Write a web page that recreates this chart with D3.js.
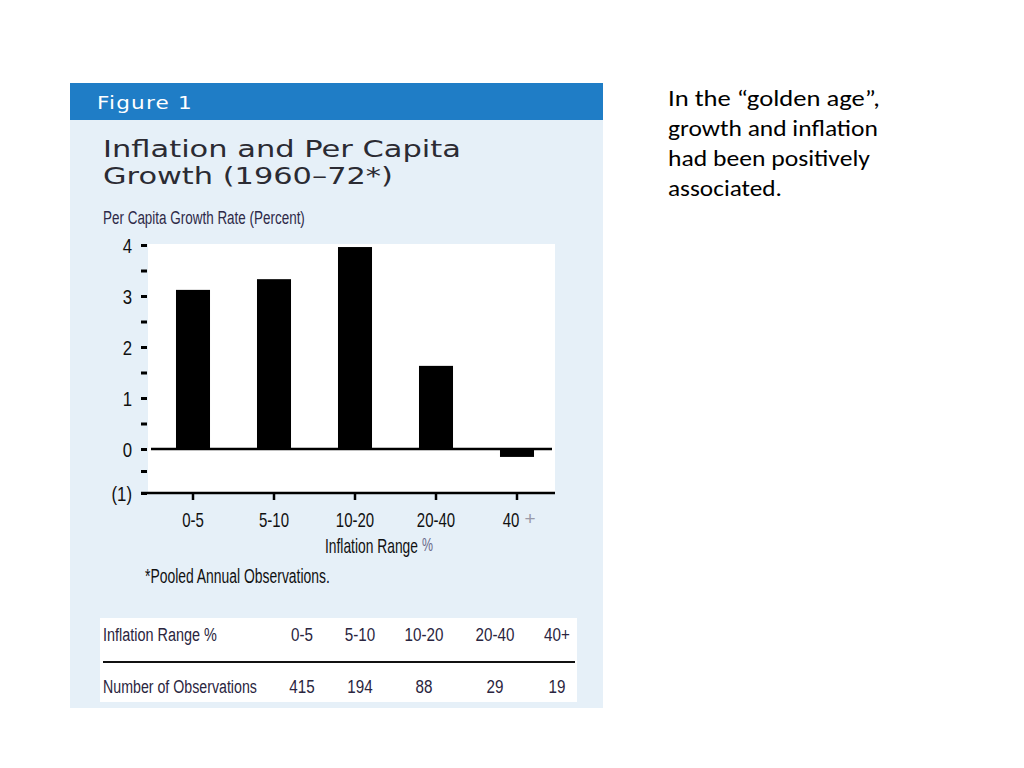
<!DOCTYPE html>
<html>
<head>
<meta charset="utf-8">
<script src="https://cdn.jsdelivr.net/npm/d3@7"></script>
<style>
  html, body { margin: 0; padding: 0; background: #ffffff; }
  svg { display: block; }
</style>
</head>
<body>
<svg id="chart" width="1024" height="768"></svg>
<script>
// ---- data ----
const categories = ["0-5", "5-10", "10-20", "20-40", "40+"];
const growth = [3.12, 3.33, 3.96, 1.63, -0.18];
const observations = [415, 194, 88, 29, 19];
const yTickValues = [-1, -0.5, 0, 0.5, 1, 1.5, 2, 2.5, 3, 3.5, 4];
const yTickLabels = { "-1": "(1)", "0": "0", "1": "1", "2": "2", "3": "3", "4": "4" };
const figureLabel = "Figure 1";
const titleLines = ["Inflation and Per Capita", "Growth (1960\u201372*)"];
const yAxisTitle = "Per Capita Growth Rate (Percent)";
const xAxisTitle = "Inflation Range";
const footnote = "*Pooled Annual Observations.";
const tableRowLabels = ["Inflation Range %", "Number of Observations"];
const sideText = ["In the \u201cgolden age\u201d,", "growth and inflation", "had been positively", "associated."];

const narrow = "'Liberation Sans', Arimo, sans-serif";
const svg = d3.select("#chart");

// squeeze text horizontally (about its anchor) to imitate a condensed face
function squeeze(sel, k) {
  sel.each(function () {
    const t = d3.select(this);
    const x0 = +t.attr("x") || 0, y0 = +t.attr("y") || 0;
    t.attr("x", 0).attr("y", 0).attr("transform", `translate(${x0},${y0}) scale(${k},1)`);
  });
  return sel;
}
// squeeze a text to a target width
function fitWidth(sel, w) {
  sel.each(function () {
    const k = w / this.getComputedTextLength();
    squeeze(d3.select(this), k);
  });
  return sel;
}

// panel
svg.append("rect").attr("x", 70).attr("y", 83).attr("width", 533).attr("height", 625).attr("fill", "#e6f0f8");
svg.append("rect").attr("x", 70).attr("y", 83).attr("width", 533).attr("height", 37).attr("fill", "#1f7dc6");
fitWidth(svg.append("text").attr("x", 97).attr("y", 109).text(figureLabel)
  .attr("font-family", "'DejaVu Sans', sans-serif").attr("font-size", 18).attr("fill", "#ffffff")
  .attr("letter-spacing", 1), 96);

// title lines
titleLines.forEach((t, i) => {
  fitWidth(svg.append("text").attr("x", 103).attr("y", 157 + i * 27).text(t)
    .attr("font-family", "'DejaVu Sans', sans-serif").attr("font-size", 23).attr("fill", "#2b2b33"),
    i === 0 ? 358 : 290);
});

fitWidth(svg.append("text").attr("x", 103).attr("y", 224).text(yAxisTitle)
  .attr("font-family", narrow).attr("font-size", 19).attr("fill", "#2e2a48"), 202);

// plot area
const plotL = 148, plotR = 555, plotT = 244, plotB = 493;
svg.append("rect").attr("x", plotL).attr("y", plotT).attr("width", plotR - plotL).attr("height", plotB - plotT).attr("fill", "#ffffff");

const x = d3.scaleBand().domain(categories).range([152.5, 557.5]).paddingInner(0.58).paddingOuter(0.29);
const y = d3.scaleLinear().domain([-1, 0, 4]).range([493, 449, 245]);

// bars
svg.append("g").selectAll("rect").data(growth).join("rect")
  .attr("x", (d, i) => x(categories[i]))
  .attr("width", x.bandwidth())
  .attr("y", d => y(Math.max(0, d)))
  .attr("height", d => Math.abs(y(d) - y(0)))
  .attr("fill", "#000000");

// zero line
svg.append("line").attr("x1", 151).attr("x2", 552).attr("y1", y(0)).attr("y2", y(0))
  .attr("stroke", "#000").attr("stroke-width", 2.5);

// y axis
const yAxis = svg.append("g").attr("transform", "translate(147,0)")
  .call(d3.axisLeft(y).tickValues(yTickValues).tickSize(6).tickPadding(9)
    .tickFormat(d => yTickLabels[String(d)] || ""));
yAxis.select(".domain").remove();
yAxis.selectAll(".tick line").attr("stroke", "#000").attr("stroke-width", 3);
squeeze(yAxis.selectAll(".tick text").attr("font-family", narrow).attr("font-size", 21)
  .attr("fill", "#111").attr("dy", "0.36em"), 0.8);

// x axis
const xAxis = svg.append("g").attr("transform", `translate(0,${plotB})`)
  .call(d3.axisBottom(x).tickSize(7).tickFormat(d => d === "40+" ? "40" : d));
xAxis.select(".domain").remove();
xAxis.selectAll(".tick line").attr("stroke", "#000").attr("stroke-width", 2.5);
const xLabels = xAxis.selectAll(".tick text").attr("font-family", narrow).attr("font-size", 20).attr("fill", "#111")
  .attr("y", 34).attr("dy", 0);
xLabels.filter(d => d === "40+").attr("x", -6);
squeeze(xLabels, 0.75);
xAxis.selectAll(".tick").filter(d => d === "40+").append("text")
  .attr("x", 13).attr("y", 32).attr("font-family", narrow).attr("font-size", 19)
  .attr("fill", "#9a9aa8").attr("text-anchor", "middle").text("+");
svg.append("line").attr("x1", 141).attr("x2", 555).attr("y1", plotB).attr("y2", plotB)
  .attr("stroke", "#000").attr("stroke-width", 2.5);

fitWidth(svg.append("text").attr("x", 325).attr("y", 553).text(xAxisTitle)
  .attr("font-family", narrow).attr("font-size", 20).attr("fill", "#111"), 93);
fitWidth(svg.append("text").attr("x", 422).attr("y", 551).text("%")
  .attr("font-family", narrow).attr("font-size", 18).attr("fill", "#6a6a8a"), 11);

fitWidth(svg.append("text").attr("x", 145).attr("y", 583).text(footnote)
  .attr("font-family", narrow).attr("font-size", 20).attr("fill", "#111"), 185);

// table
svg.append("rect").attr("x", 100).attr("y", 618).attr("width", 477).attr("height", 84).attr("fill", "#ffffff");
svg.append("line").attr("x1", 103).attr("x2", 575).attr("y1", 662).attr("y2", 662).attr("stroke", "#111").attr("stroke-width", 2);
const colCenters = [302, 360, 424, 495, 557];
tableRowLabels.forEach((t, i) => {
  fitWidth(svg.append("text").attr("x", 103).attr("y", 641 + i * 52).text(t)
    .attr("font-family", narrow).attr("font-size", 19).attr("fill", "#2a2540"), i === 0 ? 114 : 154);
});
squeeze(svg.append("g").selectAll("text").data(categories).join("text")
  .attr("x", (d, i) => colCenters[i]).attr("y", 641).attr("text-anchor", "middle")
  .attr("font-family", narrow).attr("font-size", 19).attr("fill", "#2a2540").text(d => d), 0.8);
squeeze(svg.append("g").selectAll("text").data(observations).join("text")
  .attr("x", (d, i) => colCenters[i]).attr("y", 693).attr("text-anchor", "middle")
  .attr("font-family", narrow).attr("font-size", 19).attr("fill", "#2a2540").text(d => d), 0.8);

// side text
const sideWidths = [212, 210, 202, 114];
sideText.forEach((t, i) => {
  fitWidth(svg.append("text").attr("x", 668).attr("y", 106 + i * 30).text(t)
    .attr("font-family", "Carlito, Lato, 'Open Sans', sans-serif").attr("font-size", 22).attr("fill", "#000"),
    sideWidths[i]);
});
</script>
</body>
</html>
